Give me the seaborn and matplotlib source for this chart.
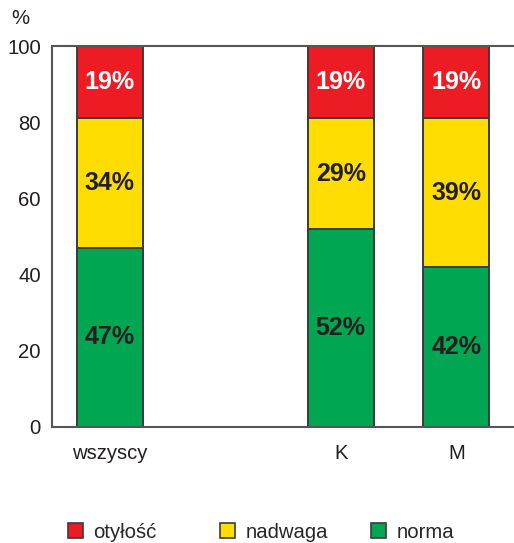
import matplotlib
matplotlib.use("Agg")
import matplotlib.pyplot as plt
from matplotlib.patches import Patch
import seaborn as sns
import pandas as pd
import numpy as np

categories = ["wszyscy", "", "K", "M"]
groups = ["wszyscy", "K", "M"]
norma = [47, 52, 42]
nadwaga = [34, 29, 39]
otylosc = [19, 19, 19]
series_names = ["otyłość", "nadwaga", "norma"]
colors = {"otyłość": "#ED1C24", "nadwaga": "#FFDD00", "norma": "#00A651"}
yticks = [0, 20, 40, 60, 80, 100]

sns.set_style("white")
plt.rcParams["font.family"] = ["Liberation Sans", "DejaVu Sans"]

df = pd.DataFrame({"grupa": groups, "norma": norma, "nadwaga": nadwaga, "otyłość": otylosc})
df["c_norma"] = df["norma"]
df["c_nadwaga"] = df["norma"] + df["nadwaga"]
df["c_otylosc"] = df["c_nadwaga"] + df["otyłość"]

fig = plt.figure(figsize=(5.14, 5.43), dpi=100)
ax = fig.add_axes([52 / 514, 1 - 427 / 543, 1 - 52 / 514, (427 - 46) / 543])

edge = "#3c3c3c"
for col, name in [("c_otylosc", "otyłość"), ("c_nadwaga", "nadwaga"), ("c_norma", "norma")]:
    sns.barplot(data=df, x="grupa", y=col, order=categories, color=colors[name],
                width=0.57, edgecolor=edge, linewidth=1.4, ax=ax, saturation=1, errorbar=None)

pos = {c: i for i, c in enumerate(categories)}
for i, g in enumerate(groups):
    x = pos[g]
    b = 0
    for name, vals, tc in [("norma", norma, "#231F20"), ("nadwaga", nadwaga, "#231F20"),
                           ("otyłość", otylosc, "white")]:
        v = vals[i]
        ax.text(x, b + v / 2, f"{v}%", ha="center", va="center", fontsize=18,
                fontweight="bold", color=tc)
        b += v

ax.set_xlim(-0.5, 3.5)
ax.set_ylim(0, 100)
ax.set_yticks(yticks)
ax.set_yticklabels([str(t) for t in yticks], fontsize=14.6, color="#231F20")
ax.set_xticks([0, 2, 3])
ax.set_xticklabels(["wszyscy", "K", "M"], fontsize=14.6, color="#231F20")
ax.set_xticks([-0.5, 0.5, 1.5, 2.5], minor=True)
ax.tick_params(axis="x", which="major", length=0, pad=12)
ax.tick_params(axis="x", which="minor", length=6, width=1.5, color="#555555", direction="out")
ax.tick_params(axis="y", length=5, width=1.5, color="#555555", direction="out", pad=3)
ax.set_xlabel("")
ax.set_ylabel("")

for s in ["left", "bottom", "top"]:
    ax.spines[s].set_visible(True)
    ax.spines[s].set_color("#555555")
    ax.spines[s].set_linewidth(1.5)
ax.spines["right"].set_visible(False)

fig.text(20 / 514, 1 - 18 / 543, "%", fontsize=14.6, ha="center", va="center", color="#231F20")

leg_x = [68, 220, 371]
for name, lx in zip(series_names, leg_x):
    h = Patch(facecolor=colors[name], edgecolor=edge, linewidth=1.2)
    fig.legend(handles=[h], labels=[name], loc="center left",
               bbox_to_anchor=(lx / 514, 1 - 532 / 543), frameon=False,
               fontsize=14.6, handlelength=0.75, handleheight=0.75,
               handletextpad=0.5, borderpad=0, borderaxespad=0)

fig.savefig("out.png", dpi=100)
